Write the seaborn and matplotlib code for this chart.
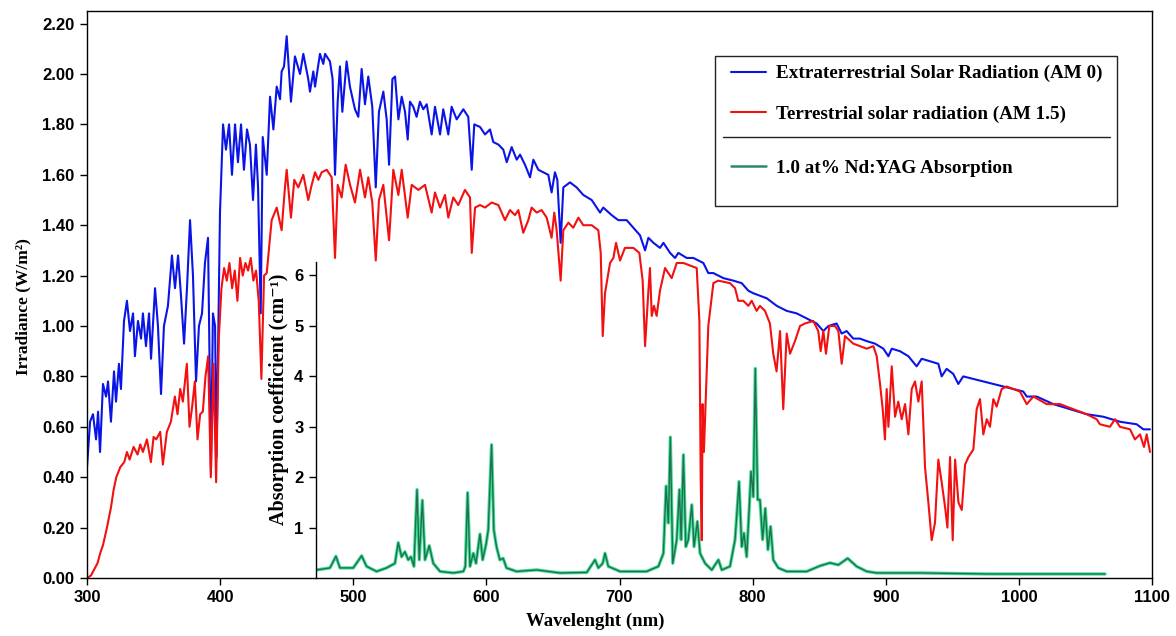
import numpy as np
import pandas as pd
import matplotlib
matplotlib.use("Agg")
import matplotlib.pyplot as plt
import seaborn as sns
from matplotlib.lines import Line2D
from matplotlib.patches import Rectangle
from matplotlib.font_manager import FontProperties
from matplotlib.ticker import FormatStrFormatter, FixedLocator

# ---------------- data ----------------
am0_wl = [300, 302.3, 304.5, 306.8, 308.3, 309.8, 312, 314.3, 315.8, 318, 320.3, 321.8, 324, 325.5,
          327.8, 330, 332.3, 334.6, 336, 338.3, 340.6, 342, 344.3, 346.6, 348.1, 351.1, 353.3, 355.6,
          357.8, 360.8, 363.8, 366.1, 368.4, 370.6, 372.9, 375.1, 377.4, 379.6, 381.9, 384.1, 386.4,
          388.6, 390.9, 393.1, 394.6, 396.2, 397.3, 399.9, 402.2, 404.4, 406.7, 408.9, 411.2, 413.4,
          415.7, 417.9, 420.2, 422.4, 424.7, 426.9, 428.5, 430.5, 432, 435, 437.5, 440, 442.5, 445,
          446.2, 448, 450, 453.2, 456.2, 460, 462.5, 466.2, 467.5, 470, 471.3, 475, 477.5, 478.8,
          482.5, 484.5, 486.3, 488.3, 490, 491.8, 495, 497.5, 501.3, 503.8, 506.3, 508.8, 511.3,
          514.3, 516.9, 519.3, 522.6, 525.1, 526.9, 529.4, 531.4, 533.9, 536.4, 538.9, 540.9, 542.6,
          545.1, 547.6, 550.1, 552.6, 555.2, 558.9, 561.4, 565.2, 567.6, 571.4, 573.9, 577.7, 582.7,
          586.4, 589, 590.9, 595.2, 599, 602.7, 605.2, 609, 612.7, 615.3, 619, 622.8, 625.3, 629,
          632.8, 635.3, 639, 642.8, 646.5, 649, 651.5, 653.3, 655.8, 657.8, 662.8, 667.8, 672.8,
          679.1, 685.4, 687.8, 694.1, 699.1, 705.4, 710.4, 715.4, 719.2, 721.7, 725.5, 730.4, 733,
          738, 741.7, 744.2, 750.5, 755.5, 763, 766.7, 770.5, 778, 785.5, 791.8, 796.8, 800.5,
          805.5, 810.6, 818.1, 825.6, 833.1, 840.6, 848.1, 853.1, 856.9, 863.1, 866.9, 870.6,
          875.6, 880.6, 885.7, 891.9, 898.2, 902, 904.5, 910.7, 917, 923.2, 927, 933.2, 939.5, 942,
          945.7, 950.7, 954.5, 958.2, 965.8, 973.3, 980.8, 988.3, 995.8, 1003.3, 1005.9, 1013.4,
          1025.9, 1038.4, 1050.9, 1063.4, 1076, 1088.5, 1093.5, 1098.5]
am0_val = [0.44, 0.62, 0.65, 0.55, 0.66, 0.50, 0.77, 0.72, 0.78, 0.62, 0.82, 0.70, 0.85, 0.75,
           1.02, 1.10, 0.98, 1.05, 0.88, 1.02, 0.95, 1.05, 0.92, 1.05, 0.87, 1.15, 1.00, 0.73,
           1.00, 1.08, 1.28, 1.15, 1.28, 1.12, 0.93, 1.15, 1.42, 1.20, 0.78, 1.00, 1.05,
           1.25, 1.35, 0.42, 1.05, 1.00, 0.48, 1.45, 1.80, 1.70, 1.80, 1.60, 1.80, 1.65,
           1.80, 1.62, 1.78, 1.72, 1.50, 1.72, 1.55, 1.05, 1.75, 1.60, 1.91, 1.78, 1.95, 1.90,
           2.01, 2.03, 2.15, 1.89, 2.07, 2.00, 2.08, 1.98, 1.93, 2.01, 1.95, 2.08, 2.04, 2.08,
           2.05, 1.98, 1.60, 1.89, 2.03, 1.85, 2.05, 1.95, 1.86, 1.83, 2.02, 1.88, 1.99,
           1.87, 1.55, 1.85, 1.93, 1.82, 1.64, 1.98, 1.99, 1.82, 1.91, 1.85, 1.74, 1.89,
           1.87, 1.83, 1.89, 1.86, 1.88, 1.76, 1.87, 1.76, 1.86, 1.76, 1.87, 1.82, 1.86,
           1.83, 1.62, 1.80, 1.79, 1.76, 1.78, 1.73, 1.72, 1.70, 1.65, 1.71, 1.66, 1.68, 1.64,
           1.59, 1.66, 1.62, 1.61, 1.60, 1.53, 1.61, 1.58, 1.33, 1.55, 1.57, 1.55, 1.52,
           1.50, 1.45, 1.47, 1.44, 1.42, 1.42, 1.39, 1.36, 1.30, 1.35, 1.33, 1.31, 1.33,
           1.29, 1.27, 1.29, 1.27, 1.27, 1.25, 1.21, 1.21, 1.19, 1.18, 1.17, 1.14, 1.13,
           1.12, 1.11, 1.08, 1.06, 1.05, 1.03, 1.01, 0.98, 1.00, 1.01, 0.97, 0.98,
           0.95, 0.95, 0.94, 0.93, 0.91, 0.88, 0.91, 0.90, 0.88, 0.84, 0.87, 0.86, 0.85, 0.80,
           0.83, 0.81, 0.77, 0.80, 0.79, 0.78, 0.77, 0.76, 0.75, 0.74, 0.72, 0.72,
           0.69, 0.67, 0.65, 0.64, 0.62, 0.61, 0.59, 0.59]

am15_wl = [300, 303, 305, 308, 310, 312, 315, 318, 320, 322, 325, 328, 330, 332, 335, 338, 340,
           342, 345, 348, 350, 352, 355, 357, 360, 363, 366, 368, 370, 372, 375, 377, 379, 381,
           383, 385, 387, 389, 391, 393, 395, 397, 399, 401, 403, 405, 407, 409, 411, 413, 415,
           417, 419, 421, 423, 425, 427, 429, 431, 433, 435, 438.7, 442.5, 446.2, 448.7, 450,
           453.2, 455.7, 458.7, 462.5, 466.2, 468.8, 471.3, 473.8, 476.3, 480.1, 483.8, 486.3,
           488.3, 491.3, 494.3, 497.6, 501.3, 505.1, 508.8, 511.3, 514.3, 516.9, 519.3, 522.6,
           526.9, 530.1, 533.9, 536.4, 540.9, 543.9, 548.9, 553.9, 558.9, 561.4, 565.2, 568.9,
           571.4, 575.1, 578.9, 583.9, 587.7, 589, 591.5, 595.2, 599, 604, 609, 614, 617.7,
           621.5, 624, 627.7, 631.5, 634, 637.8, 641.5, 645.3, 649, 651, 652.8, 655.8, 657.8,
           661.6, 665.3, 669.1, 672.8, 679.1, 684.1, 685.9, 687.4, 689.1, 692.9, 695.4, 697.4,
           700.4, 704.1, 710.4, 714.9, 717.4, 719.2, 721.7, 722.9, 724.2, 725.9, 727.9, 730.4,
           734.2, 736.7, 739.2, 743, 748, 753, 758, 760, 761, 761.8, 762.4, 763.4, 766.7, 770.5,
           774.2, 783, 786.8, 789.2, 793, 796.8, 799.3, 803, 805.5, 809.3, 813, 815.5, 818,
           820.6, 823, 825.6, 828.1, 831.8, 835.6, 839.3, 845.6, 849.3, 851.1, 853.1, 855.1,
           857.6, 861.9, 864.4, 866.9, 869.4, 875.6, 880.6, 885.7, 890.7, 893.2, 895.7, 897.7,
           899.4, 900.7, 902, 904.5, 907, 909.4, 912, 914.5, 917, 919.5, 922, 924.5, 927, 929.5,
           932, 934.5, 937, 939.5, 942, 944.6, 946.3, 948.3, 950.3, 952.1, 954.6, 957.1, 959.6,
           962.1, 965.8, 968.3, 970.8, 973.3, 975.9, 978.3, 980.8, 983.3, 987.1, 990.8, 995.8,
           1000.8, 1005.9, 1010.9, 1020.9, 1030.9, 1040.9, 1050.9, 1058.4, 1060.9, 1068.4,
           1072.2, 1075.9, 1083.5, 1087.2, 1091, 1094, 1096, 1098.5]
am15_val = [0.00, 0.01, 0.03, 0.06, 0.10, 0.13, 0.20, 0.28, 0.35, 0.40, 0.44, 0.46, 0.50, 0.47,
            0.52, 0.49, 0.53, 0.50, 0.55, 0.46, 0.56, 0.55, 0.58, 0.45, 0.58, 0.62, 0.72, 0.65,
            0.75, 0.70, 0.85, 0.60, 0.68, 0.78, 0.55, 0.65, 0.66, 0.80, 0.88, 0.40, 0.85, 0.38,
            0.95, 1.15, 1.23, 1.18, 1.25, 1.15, 1.22, 1.10, 1.27, 1.20, 1.25, 1.22, 1.27, 1.18,
            1.22, 1.10, 0.79, 1.20, 1.21, 1.42, 1.47, 1.38, 1.55, 1.62,
            1.43, 1.58, 1.55, 1.60, 1.50, 1.56, 1.61, 1.58, 1.61, 1.62, 1.59, 1.27,
            1.56, 1.51, 1.64, 1.56, 1.49, 1.62, 1.51, 1.59, 1.49, 1.26, 1.50, 1.56,
            1.34, 1.62, 1.52, 1.62, 1.43, 1.56, 1.54, 1.56, 1.45, 1.53, 1.47, 1.52,
            1.43, 1.51, 1.48, 1.54, 1.51, 1.29, 1.47, 1.48, 1.47, 1.49, 1.48, 1.42, 1.46,
            1.44, 1.46, 1.37, 1.42, 1.47, 1.45, 1.46, 1.43, 1.35, 1.45, 1.38, 1.18, 1.38,
            1.41, 1.39, 1.43, 1.40, 1.40, 1.38, 1.29, 0.96, 1.13, 1.25, 1.27, 1.33,
            1.26, 1.31, 1.31, 1.29, 1.18, 0.92, 1.14, 1.23, 1.04, 1.08, 1.04, 1.14,
            1.23, 1.21, 1.19, 1.25, 1.25, 1.24, 1.23, 1.02, 0.39, 0.15, 0.69, 0.50, 1.00, 1.17,
            1.18, 1.17, 1.15, 1.10, 1.10, 1.08, 1.10, 1.06, 1.08, 1.06, 1.01, 0.89, 0.82,
            0.98, 0.67, 0.97, 0.89, 0.94, 1.00, 1.01, 1.02, 0.98, 0.90, 0.98, 0.89,
            1.00, 1.00, 0.98, 0.85, 0.96, 0.93, 0.92, 0.91, 0.92, 0.88, 0.77, 0.67,
            0.55, 0.75, 0.60, 0.84, 0.64, 0.70, 0.63, 0.69, 0.57, 0.75, 0.78, 0.70, 0.78, 0.44,
            0.30, 0.15, 0.22, 0.47, 0.38, 0.28, 0.20, 0.48, 0.15, 0.47, 0.30, 0.27, 0.45,
            0.48, 0.51, 0.67, 0.71, 0.57, 0.63, 0.60, 0.71, 0.68, 0.75, 0.76, 0.75,
            0.74, 0.69, 0.72, 0.69, 0.69, 0.67, 0.65, 0.63, 0.61, 0.60,
            0.63, 0.60, 0.59, 0.55, 0.57, 0.52, 0.57, 0.50]

ndyag_wl = [472.5, 482.5, 487, 490, 500, 506.3, 510, 517.5, 525, 531.3, 533.8, 536.3, 538.8,
            541.3, 543.3, 545.6, 547.9, 549.6, 551.9, 553.9, 557.1, 560.1, 565.2, 575.1, 582.7,
            584.2, 585.9, 587.7, 590.2, 592.2, 595.2, 597.2, 599.7, 601.4, 603.9, 605.6, 607.6,
            610.1, 612.6, 615.1, 622.6, 637.8, 655.3, 675.4, 681.6, 684.1, 687.4, 689.1, 691.6,
            700.4, 720.4, 729.2, 733, 735, 736.7, 738.2, 740, 743, 745, 746.3, 748, 749.8, 751.7,
            754.3, 756, 758.5, 760.5, 764.3, 769.3, 774.3, 776.8, 783, 786.8, 788, 789.8, 791.8,
            793.5, 795.5, 797.5, 798.8, 800.5, 802, 803.8, 805.5, 807.5, 809.5, 811.5, 813.5,
            815.5, 819.3, 825.6, 840.6, 850.6, 858.1, 864.4, 871.4, 878.1, 885.7, 893.2, 925.7,
            975.8, 1025.9, 1064.7]
ndyag_val = [0.16, 0.20, 0.43, 0.20, 0.20, 0.44, 0.23, 0.13, 0.20, 0.29, 0.70, 0.42, 0.52,
             0.36, 0.42, 0.23, 1.75, 0.36, 1.54, 0.36, 0.64, 0.29, 0.13, 0.10, 0.13,
             0.23, 1.69, 0.23, 0.49, 0.29, 0.87, 0.36, 0.66, 0.95, 2.64, 0.95, 0.62,
             0.36, 0.39, 0.20, 0.13, 0.16, 0.10, 0.11, 0.36, 0.20, 0.29, 0.49, 0.23,
             0.13, 0.13, 0.23, 0.49, 1.82, 1.09, 2.79, 0.29, 0.76, 1.75, 0.76, 2.44, 0.62, 0.76,
             1.45, 0.62, 1.12, 0.49, 0.29, 0.16, 0.36, 0.16, 0.23, 0.76, 1.21, 1.91, 0.62,
             0.89, 0.42, 1.41, 2.11, 1.61, 4.15, 1.55, 1.55, 0.76, 1.38, 0.56, 1.02,
             0.36, 0.20, 0.13, 0.13, 0.24, 0.30, 0.26, 0.39, 0.23, 0.13, 0.10, 0.10,
             0.08, 0.08, 0.08]

x_ticks = [300, 400, 500, 600, 700, 800, 900, 1000, 1100]
y_ticks = [0.0, 0.2, 0.4, 0.6, 0.8, 1.0, 1.2, 1.4, 1.6, 1.8, 2.0, 2.2]
inset_ticks = [1, 2, 3, 4, 5, 6]

labels = ["Extraterrestrial Solar Radiation (AM 0)",
          "Terrestrial solar radiation (AM 1.5)",
          "1.0 at% Nd:YAG Absorption"]

# ---------------- style ----------------
sns.set_theme(style="ticks")
plt.rcParams['font.family'] = ['Liberation Sans', 'DejaVu Sans']
plt.rcParams['axes.linewidth'] = 1.0
for k in ['text.color', 'axes.labelcolor', 'xtick.color', 'ytick.color', 'axes.edgecolor']:
    plt.rcParams[k] = 'black'

W, H = 1176, 636
fig = plt.figure(figsize=(W / 100, H / 100), dpi=100)
fig.patch.set_facecolor('white')

# pixel geometry
ax_l, ax_r, ax_b, ax_t = 87, 1152, 578, 11
in_l, in_t = 316, 262

ax = fig.add_axes([ax_l / W, 1 - ax_b / H, (ax_r - ax_l) / W, (ax_b - ax_t) / H])
ax.set_xlim(300, 1100)
ax.set_ylim(0, 2.25)

# inset axes (sharing wavelength scale with main axes)
x_in_left = 300 + 800 * (in_l - ax_l) / (ax_r - ax_l)
ax_in = fig.add_axes([in_l / W, 1 - ax_b / H, (ax_r - in_l) / W, (ax_b - in_t) / H])
ax_in.set_xlim(x_in_left, 1100)
ax_in.set_ylim(0, 6.26)
ax_in.patch.set_visible(False)
ax.set_zorder(2)
ax.patch.set_visible(False)
ax_in.set_zorder(1)

blue = "#0a14e6"
red = "#f21010"
green_dark = "#226e50"
green_bright = "#3fe094"

df0 = pd.DataFrame({"wl": am0_wl, "val": am0_val})
df15 = pd.DataFrame({"wl": am15_wl, "val": am15_val})
dfn = pd.DataFrame({"wl": ndyag_wl, "val": ndyag_val})

sns.lineplot(data=df0, x="wl", y="val", ax=ax, color=blue, lw=1.5, estimator=None, sort=False)
sns.lineplot(data=df15, x="wl", y="val", ax=ax, color=red, lw=1.5, estimator=None, sort=False)
sns.lineplot(data=dfn, x="wl", y="val", ax=ax_in, color=green_bright, lw=2.4, estimator=None, sort=False)
sns.lineplot(data=dfn, x="wl", y="val", ax=ax_in, color=green_dark, lw=1.0, estimator=None, sort=False)

# main axes ticks & labels
tick_font = FontProperties(family='Liberation Sans', weight='bold', size=12)
ax.xaxis.set_major_locator(FixedLocator(x_ticks))
ax.yaxis.set_major_locator(FixedLocator(y_ticks))
ax.yaxis.set_major_formatter(FormatStrFormatter('%.2f'))
ax.tick_params(axis='both', direction='out', length=5, width=1, colors='black', pad=4)
for lab in ax.get_xticklabels() + ax.get_yticklabels():
    lab.set_fontproperties(tick_font)
    lab.set_color('black')
for s in ax.spines.values():
    s.set_color('black')
    s.set_linewidth(1.0)

ax.set_xlabel("Wavelenght (nm)",
              fontdict=dict(family=['Liberation Serif', 'DejaVu Serif'], weight='bold',
                            size=13.5, color='black'), labelpad=5)
ax.set_ylabel("Irradiance (W/m²)",
              fontdict=dict(family=['Liberation Serif', 'DejaVu Serif'], weight='bold',
                            size=12.5, color='black'), labelpad=8)
ax.xaxis.label.set_x((595 - ax_l) / (ax_r - ax_l))
ax.yaxis.label.set_y((ax_b - 307) / (ax_b - ax_t))

# inset axes ticks & labels
ax_in.set_xticks([])
ax_in.yaxis.set_major_locator(FixedLocator(inset_ticks))
ax_in.yaxis.set_major_formatter(FormatStrFormatter('%d'))
ax_in.tick_params(axis='y', direction='out', length=5, width=1, colors='black', pad=4)
for lab in ax_in.get_yticklabels():
    lab.set_fontproperties(tick_font)
    lab.set_color('black')
for side in ['top', 'right', 'bottom']:
    ax_in.spines[side].set_visible(False)
ax_in.spines['left'].set_color('black')
ax_in.spines['left'].set_linewidth(1.0)
ax_in.set_xlabel("")
ax_in.set_ylabel("Absorption coefficient (cm⁻¹)",
                 fontdict=dict(family=['Liberation Serif', 'DejaVu Serif'], weight='bold',
                               size=14.5, color='black'),
                 labelpad=4)
ax_in.yaxis.label.set_y((ax_b - 399) / (ax_b - in_t))

# legend
frame = Rectangle((715 / W, 1 - 206 / H), (1117 - 715) / W, (206 - 56) / H,
                  transform=fig.transFigure, fill=True, facecolor='white',
                  edgecolor='#222222', lw=1.0, zorder=5)
fig.patches.append(frame)
sep = Line2D([723 / W, 1110 / W], [1 - 137 / H, 1 - 137 / H], transform=fig.transFigure,
             color='#222222', lw=1.0, zorder=6)
fig.lines.append(sep)

leg_font = FontProperties(family=['Liberation Serif', 'DejaVu Serif'], weight='bold', size=13.8)
h_blue = Line2D([], [], color=blue, lw=1.5)
h_red = Line2D([], [], color=red, lw=1.5)
h_green = Line2D([], [], color="#2a8a68", lw=1.8)
leg1 = fig.legend(handles=[h_blue, h_red], labels=labels[:2], loc='center left',
                  bbox_to_anchor=(731 / W, 1 - 94 / H), frameon=False, borderpad=0,
                  borderaxespad=0, handlelength=1.8, handletextpad=0.55, labelspacing=1.2,
                  prop=leg_font, labelcolor='black')
leg2 = fig.legend(handles=[h_green], labels=labels[2:], loc='center left',
                  bbox_to_anchor=(731 / W, 1 - 168 / H), frameon=False, borderpad=0,
                  borderaxespad=0, handlelength=1.8, handletextpad=0.55, prop=leg_font,
                  labelcolor='black')
leg1.set_zorder(7)
leg2.set_zorder(7)

fig.savefig("out.png", dpi=100, facecolor='white')
